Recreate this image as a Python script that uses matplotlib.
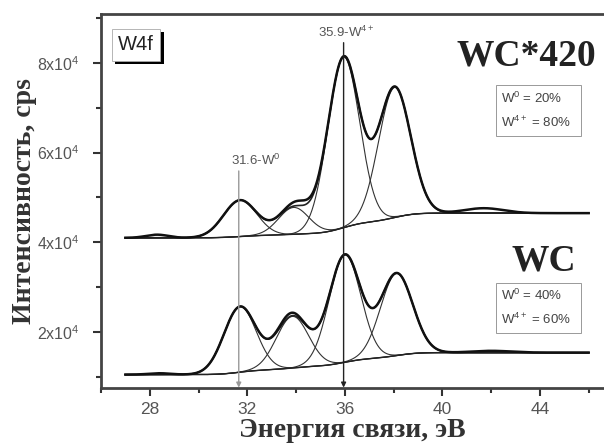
import numpy as np
import matplotlib.pyplot as plt
from matplotlib import patheffects
from matplotlib.ticker import MultipleLocator, FuncFormatter

plt.rcParams['mathtext.fontset'] = 'custom'
plt.rcParams['mathtext.rm'] = 'Liberation Sans'
plt.rcParams['mathtext.it'] = 'Liberation Sans:italic'

# fitted W4f components: centre (eV), height (cps), sigma (eV)
x_start, x_end = 27.0, 46.0

wc420_centers = [31.7, 33.9, 35.95, 38.04]
wc420_heights = [8100, 6000, 38000, 29000]
wc420_sigmas = [0.68, 0.62, 0.65, 0.66]
wc420_bg = [41000, 46500]          # Shirley background, left / right level
# small features of the measured curve not covered by the fit
wc420_extra_centers = [28.3, 34.2, 41.7]
wc420_extra_heights = [700, 1100, 1100]
wc420_extra_sigmas = [0.45, 0.45, 0.8]

wc_centers = [31.7, 33.85, 36.0, 38.12]
wc_heights = [14600, 11500, 23900, 18300]
wc_sigmas = [0.66, 0.66, 0.65, 0.66]
wc_bg = [10500, 15400]
wc_extra_centers = [28.4, 33.7, 42.0]
wc_extra_heights = [300, 700, 400]
wc_extra_sigmas = [0.45, 0.4, 0.8]

marker_pos = [31.65, 35.95]
marker_top = [55900, 84500]
marker_text = ['31.6-W$^0$', '35.9-W$^{4+}$']
marker_text_x = [31.35, 34.9]
marker_color = ['#999999', '#222222']

x = np.linspace(x_start, x_end, 800)


def gauss(c, h, s):
    return h * np.exp(-(x - c) ** 2 / (2 * s ** 2))


def spectrum(centers, heights, sigmas, bg, ex_c, ex_h, ex_s):
    comps = [gauss(c, h, s) for c, h, s in zip(centers, heights, sigmas)]
    peaks = np.sum(comps, axis=0)
    cum = np.cumsum(peaks)
    back = bg[0] + (bg[1] - bg[0]) * cum / cum[-1]
    extra = np.sum([gauss(c, h, s) for c, h, s in zip(ex_c, ex_h, ex_s)], axis=0)
    return comps, back, back + peaks, back + peaks + extra


fig = plt.figure(figsize=(6.04, 4.45), dpi=100)
ax = fig.add_axes([101 / 604, 57 / 445, 503 / 604, 374 / 445])

for args in [(wc420_centers, wc420_heights, wc420_sigmas, wc420_bg,
              wc420_extra_centers, wc420_extra_heights, wc420_extra_sigmas),
             (wc_centers, wc_heights, wc_sigmas, wc_bg,
              wc_extra_centers, wc_extra_heights, wc_extra_sigmas)]:
    comps, back, env, data = spectrum(*args)
    for comp in comps:
        ax.plot(x, back + comp, color='#333333', lw=0.8)
    ax.plot(x, back, color='#222222', lw=1.0)
    ax.plot(x, env, color='#222222', lw=1.2)
    ax.plot(x, data, color='#111111', lw=1.8)

ax.set_xlim(26, 46.63)
ax.set_ylim(7510, 90900)

for p, top, tx, txt, col in zip(marker_pos, marker_top, marker_text_x, marker_text, marker_color):
    ax.annotate('', xy=(p, 7600), xytext=(p, top),
                arrowprops=dict(arrowstyle='-|>', color=col, lw=1.0,
                                mutation_scale=7, shrinkA=0, shrinkB=0))
    ax.text(tx, top + 700, txt, ha='left', va='bottom', fontsize=9.5,
            color='#555555', family='Liberation Sans')

ax.xaxis.set_major_locator(MultipleLocator(4))
ax.xaxis.set_minor_locator(MultipleLocator(2))
ax.yaxis.set_major_locator(MultipleLocator(20000))
ax.yaxis.set_minor_locator(MultipleLocator(10000))
ax.yaxis.set_major_formatter(FuncFormatter(lambda v, p: '%dx10$^4$' % round(v / 1e4)))
ax.tick_params(which='both', direction='out', colors='#333333', labelcolor='#555555',
               width=1.5)
ax.tick_params(axis='x', labelsize=12.5, pad=4)
ax.tick_params(axis='y', labelsize=11.5, pad=9)
ax.tick_params(which='major', length=6)
ax.tick_params(which='minor', length=3.5)
for lab in ax.get_xticklabels() + ax.get_yticklabels():
    lab.set_family('Liberation Sans')

for side in ['top', 'bottom', 'left']:
    ax.spines[side].set_linewidth(2)
    ax.spines[side].set_color('#444444')
ax.spines['right'].set_visible(False)

serif = 'Liberation Serif'
ax.set_xlabel('Энергия связи, эВ', family=serif, fontweight='bold', fontsize=20,
              color='#333333', labelpad=1)
ax.set_ylabel('Интенсивность, cps', family=serif, fontweight='bold', fontsize=20,
              color='#333333', labelpad=0)

t = ax.text(0.034, 0.918, 'W4f', transform=ax.transAxes, fontsize=14.5,
            family='Liberation Sans', color='#222222', va='center', ha='left',
            bbox=dict(boxstyle='square,pad=0.32', fc='white', ec='#aaaaaa', lw=0.6))
t.get_bbox_patch().set_path_effects([
    patheffects.SimplePatchShadow(offset=(2.5, -2.5), shadow_rgbFace='black', alpha=1),
    patheffects.Normal()])

ax.text(0.845, 0.888, 'WC*420', transform=ax.transAxes, fontsize=27, family=serif,
        fontweight='bold', color='#222222', ha='center', va='center')
ax.text(0.88, 0.34, 'WC', transform=ax.transAxes, fontsize=27, family=serif,
        fontweight='bold', color='#222222', ha='center', va='center')

box = dict(boxstyle='square,pad=0.4', fc='white', ec='#999999', lw=0.7)
ax.text(0.796, 0.742, 'W$^0$ = 20%  \nW$^{4+}$ = 80%  ', transform=ax.transAxes, fontsize=9.5,
        family='Liberation Sans', color='#444444', va='center', ha='left',
        linespacing=1.75, bbox=box)
ax.text(0.796, 0.215, 'W$^0$ = 40%  \nW$^{4+}$ = 60%  ', transform=ax.transAxes, fontsize=9.5,
        family='Liberation Sans', color='#444444', va='center', ha='left',
        linespacing=1.75, bbox=box)

fig.savefig('out.png', dpi=100)
